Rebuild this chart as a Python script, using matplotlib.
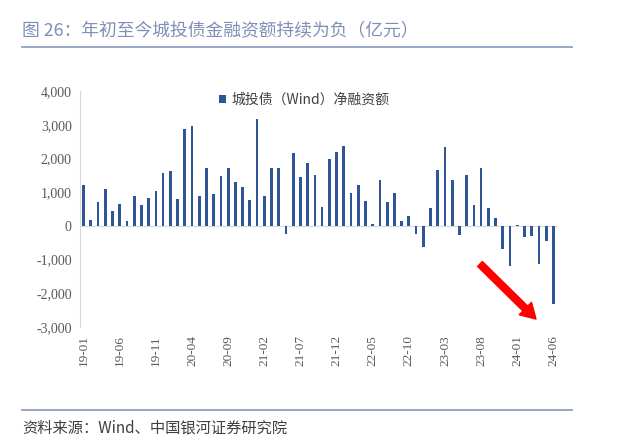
import matplotlib.pyplot as plt
import numpy as np
from matplotlib.lines import Line2D
from matplotlib.patches import FancyArrowPatch

plt.rcParams['font.family'] = ['Noto Sans CJK SC', 'DejaVu Sans']

# monthly net financing of LGFV bonds (Wind), 100 million yuan, 2019-01 .. 2024-06
months = [f"{y:02d}-{m:02d}" for y in range(19, 25) for m in range(1, 13)][:66]
net_financing = [
    1210, 170, 700, 1100, 440, 650, 130, 890, 620, 840, 1040, 1570,
    1630, 790, 2860, 2950, 890, 1730, 940, 1480, 1710, 1300, 1140, 760,
    3160, 880, 1730, 1730, -250, 2150, 1450, 1870, 1520, 545, 1970, 2200,
    2380, 960, 1210, 730, 50, 1370, 710, 980, 140, 290, -230, -620,
    530, 1670, 2330, 1350, -260, 1520, 620, 1710, 530, 220, -690, -1200,
    30, -340, -290, -1140, -460, -2330,
]
yticks = [-3000, -2000, -1000, 0, 1000, 2000, 3000, 4000]
series_name = '城投债（Wind）净融资额'

fig = plt.figure(figsize=(6.4, 4.42), dpi=100)
ax = fig.add_axes([80 / 640, 1 - 327 / 442, 477 / 640, 236 / 442])

x = np.arange(len(net_financing))
ax.bar(x, net_financing, width=0.38, color='#2F5597', label=series_name, zorder=3)

ax.set_xlim(-0.5, len(net_financing) - 0.5)
ax.set_ylim(-3000, 4000)
ax.set_yticks(yticks)
ax.set_yticklabels([f"{v:,}" for v in yticks], fontfamily='Liberation Serif',
                   fontsize=10, color='#595959')
ax.set_xticks(x[::5])
ax.set_xticklabels(months[::5], rotation=90, fontfamily='Liberation Serif',
                   fontsize=9.5, color='#595959')
ax.tick_params(axis='both', length=0, pad=6)

for side in ['top', 'right', 'bottom']:
    ax.spines[side].set_visible(False)
ax.spines['left'].set_color('#D9D9D9')
ax.axhline(0, color='#D9D9D9', lw=0.8, zorder=2)

leg = ax.legend(loc='upper center', bbox_to_anchor=(0.47, 1.045), frameon=False,
                fontsize=10, handlelength=0.55, handleheight=0.55, handletextpad=0.4)
for t in leg.get_texts():
    t.set_color('#404040')

# red trend arrow
arrow = FancyArrowPatch((478 / 640, 1 - 262 / 442), (538 / 640, 1 - 321 / 442),
                        transform=fig.transFigure, color='#FF0000',
                        arrowstyle='simple,head_width=1.4,head_length=1.2,tail_width=0.55',
                        mutation_scale=9)
fig.add_artist(arrow)

fig.text(22 / 640, 1 - 31 / 442, '图 26：年初至今城投债金融资额持续为负（亿元）',
         fontsize=12.8, color='#7F8FB5', va='center', ha='left')
fig.add_artist(Line2D([22 / 640, 572 / 640], [1 - 47 / 442, 1 - 47 / 442],
                      transform=fig.transFigure, color='#8FA0C2', lw=1.3))
fig.add_artist(Line2D([22 / 640, 572 / 640], [1 - 410 / 442, 1 - 410 / 442],
                      transform=fig.transFigure, color='#8FA0C2', lw=1.3))
fig.text(22 / 640, 1 - 428 / 442, '资料来源：Wind、中国银河证券研究院',
         fontsize=11, color='#404040', va='center', ha='left', style='italic')

fig.savefig('out.png', dpi=100)
